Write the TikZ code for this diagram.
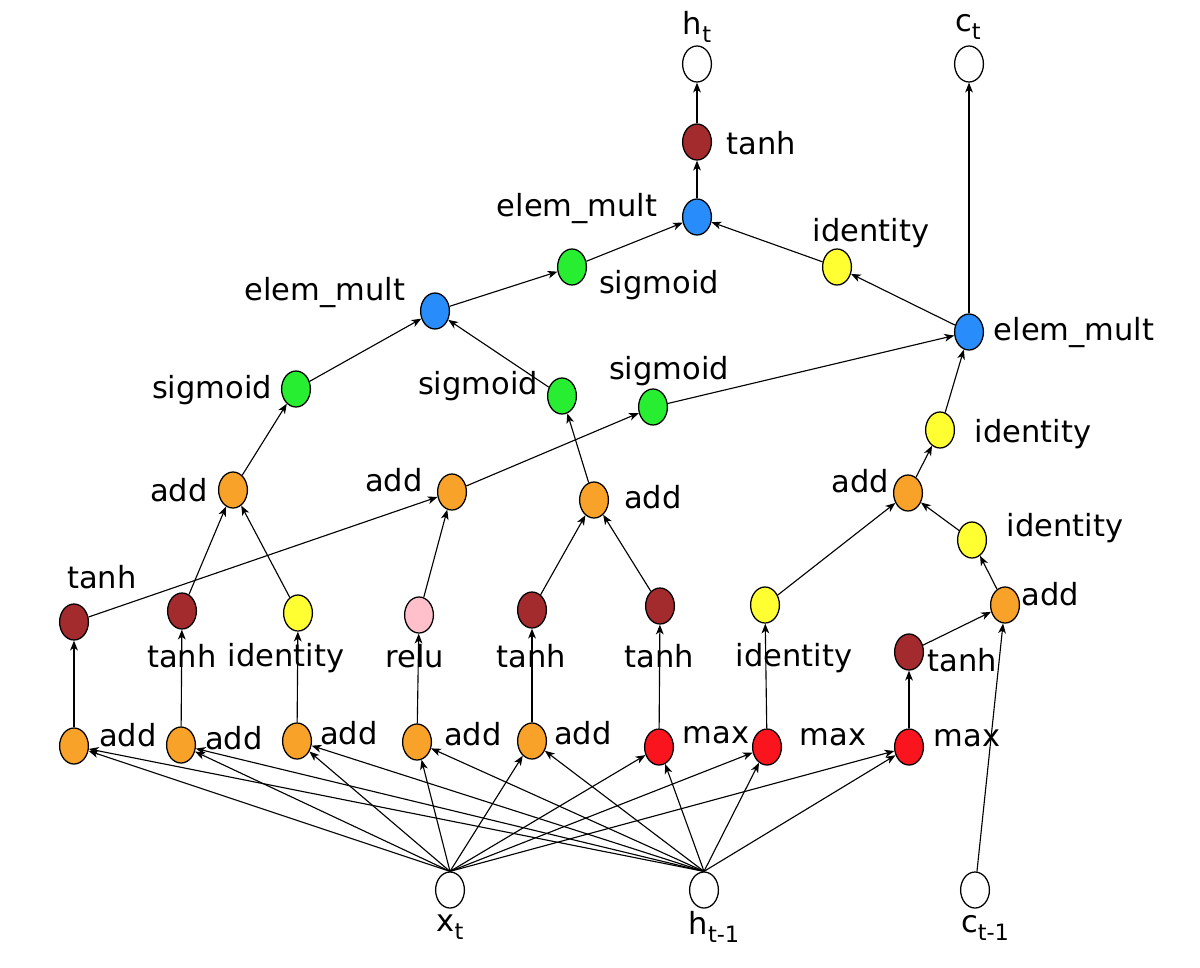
\documentclass[tikz,border=0pt]{standalone}
\usepackage{fontspec}
\setmainfont{DejaVu Sans}
\usetikzlibrary{shapes.geometric,arrows.meta}
\definecolor{corange}{RGB}{249,162,42}
\definecolor{cbrown}{RGB}{163,42,45}
\definecolor{cyellow}{RGB}{255,255,50}
\definecolor{cgreen}{RGB}{40,238,50}
\definecolor{cblue}{RGB}{40,140,250}
\definecolor{cred}{RGB}{250,20,30}
\definecolor{cpink}{RGB}{255,192,203}
\newcommand{\lsub}[1]{\raisebox{-0.27em}{\fontsize{16}{19}\selectfont #1}}
\begin{document}
\begin{tikzpicture}[x=0.025cm,y=-0.025cm,
  op/.style={ellipse,draw,line width=0.9pt,minimum width=0.72cm,minimum height=0.9cm,inner sep=0pt},
  lab/.style={inner sep=0pt,font=\fontsize{21.7}{26}\selectfont},
  arr/.style={-{Stealth[length=7pt,width=5.5pt,inset=2pt]},line width=0.8pt}]
\useasboundingbox (0,0) rectangle (1200,967);
% nodes
\node[op,fill=white] (ht) at (697,64) {};
\node[op,fill=white] (ct) at (969,64) {};
\node[op,fill=cbrown] (T) at (697,142) {};
\node[op,fill=cblue] (EM3) at (697,217) {};
\node[op,fill=cyellow] (ID3) at (837,267) {};
\node[op,fill=cgreen] (SG3) at (572,267) {};
\node[op,fill=cblue] (EM1) at (435,311) {};
\node[op,fill=cblue] (EM2) at (969,332) {};
\node[op,fill=cgreen] (SG1) at (296,389) {};
\node[op,fill=cgreen] (SG2) at (562,396) {};
\node[op,fill=cgreen] (SG4) at (653,407) {};
\node[op,fill=cyellow] (ID2) at (940,430) {};
\node[op,fill=corange] (A1) at (233,490) {};
\node[op,fill=corange] (A2) at (452,492) {};
\node[op,fill=corange] (A3) at (594,500) {};
\node[op,fill=corange] (A4) at (908,493) {};
\node[op,fill=cyellow] (ID1) at (972,540) {};
\node[op,fill=corange] (A5) at (1005,605) {};
\node[op,fill=cbrown] (U1) at (74,622) {};
\node[op,fill=cbrown] (U2) at (182,611) {};
\node[op,fill=cyellow] (U3) at (298,613) {};
\node[op,fill=cpink] (U4) at (419,615) {};
\node[op,fill=cbrown] (U5) at (532,610) {};
\node[op,fill=cbrown] (U6) at (660,606) {};
\node[op,fill=cyellow] (U7) at (765,605) {};
\node[op,fill=cbrown] (U8) at (909,652) {};
\node[op,fill=corange] (B1) at (74,746) {};
\node[op,fill=corange] (B2) at (181,745) {};
\node[op,fill=corange] (B3) at (297,741) {};
\node[op,fill=corange] (B4) at (417,742) {};
\node[op,fill=corange] (B5) at (532,741) {};
\node[op,fill=cred] (B6) at (659,747) {};
\node[op,fill=cred] (B7) at (767,747) {};
\node[op,fill=cred] (B8) at (909,747) {};
\node[op,fill=white] (X) at (450,890) {};
\node[op,fill=white] (H) at (704,890) {};
\node[op,fill=white] (C) at (975,890) {};
% labels
\node[lab] (lht) at (697,27) {h\lsub{t}};
\node[lab] (lct) at (968,27) {c\lsub{t}};
\node[lab] (lT) at (761,143) {tanh};
\node[lab] (lEM3) at (577,209) {elem\_mult};
\node[lab] (lID3) at (871,233) {identity};
\node[lab] (lSG3) at (659,285) {sigmoid};
\node[lab] (lEM1) at (325,292) {elem\_mult};
\node[lab] (lEM2) at (1074,332) {elem\_mult};
\node[lab] (lSG1) at (212,390) {sigmoid};
\node[lab] (lSG2) at (478,386) {sigmoid};
\node[lab] (lSG4) at (669,371) {sigmoid};
\node[lab] (lID2) at (1033,434) {identity};
\node[lab] (lA1) at (179,490) {add};
\node[lab] (lA2) at (394,480) {add};
\node[lab] (lA3) at (653,497) {add};
\node[lab] (lA4) at (860,481) {add};
\node[lab] (lID1) at (1065,528) {identity};
\node[lab] (lA5) at (1050,594) {add};
\node[lab] (lU1) at (102,577) {tanh};
\node[lab] (lU2) at (182,656) {tanh};
\node[lab] (lU3) at (286,658) {identity};
\node[lab] (lU4) at (415,656) {relu};
\node[lab] (lU5) at (531,656) {tanh};
\node[lab] (lU6) at (659,656) {tanh};
\node[lab] (lU7) at (794,658) {identity};
\node[lab] (lU8) at (962,660) {tanh};
\node[lab] (lB1) at (128,735) {add};
\node[lab] (lB2) at (234,738) {add};
\node[lab] (lB3) at (349,733) {add};
\node[lab] (lB4) at (473,734) {add};
\node[lab] (lB5) at (583,733) {add};
\node[lab] (lB6) at (716,735) {max};
\node[lab] (lB7) at (833,737) {max};
\node[lab] (lB8) at (967,738) {max};
\node[lab] (lX) at (450,927) {x\lsub{t}};
\node[lab] (lH) at (714,927) {h\lsub{t-1}};
\node[lab] (lC) at (985,928) {c\lsub{t-1}};
% edges
\foreach \b in {B1,B2,B3,B4,B5,B6,B7,B8} {
  \draw[arr] (X.north) -- (\b);
  \draw[arr] (H.north) -- (\b);
}
\draw[arr] (B1) -- (U1);
\draw[arr] (B2) -- (U2);
\draw[arr] (B3) -- (U3);
\draw[arr] (B4) -- (U4);
\draw[arr] (B5) -- (U5);
\draw[arr] (B6) -- (U6);
\draw[arr] (B7) -- (U7);
\draw[arr] (B8) -- (U8);
\draw[arr] (U1) -- (A2);
\draw[arr] (U2) -- (A1);
\draw[arr] (U3) -- (A1);
\draw[arr] (U4) -- (A2);
\draw[arr] (U5) -- (A3);
\draw[arr] (U6) -- (A3);
\draw[arr] (U7) -- (A4);
\draw[arr] (U8) -- (A5);
\draw[arr] (C) -- (A5);
\draw[arr] (A5) -- (ID1);
\draw[arr] (ID1) -- (A4);
\draw[arr] (A4) -- (ID2);
\draw[arr] (ID2) -- (EM2);
\draw[arr] (SG4) -- (EM2);
\draw[arr] (A2) -- (SG4);
\draw[arr] (A1) -- (SG1);
\draw[arr] (A3) -- (SG2);
\draw[arr] (SG1) -- (EM1);
\draw[arr] (SG2) -- (EM1);
\draw[arr] (EM1) -- (SG3);
\draw[arr] (SG3) -- (EM3);
\draw[arr] (EM2) -- (ID3);
\draw[arr] (ID3) -- (EM3);
\draw[arr] (EM3) -- (T);
\draw[arr] (T) -- (ht);
\draw[arr] (EM2.north) -- (ct.south);
\end{tikzpicture}
\end{document}
